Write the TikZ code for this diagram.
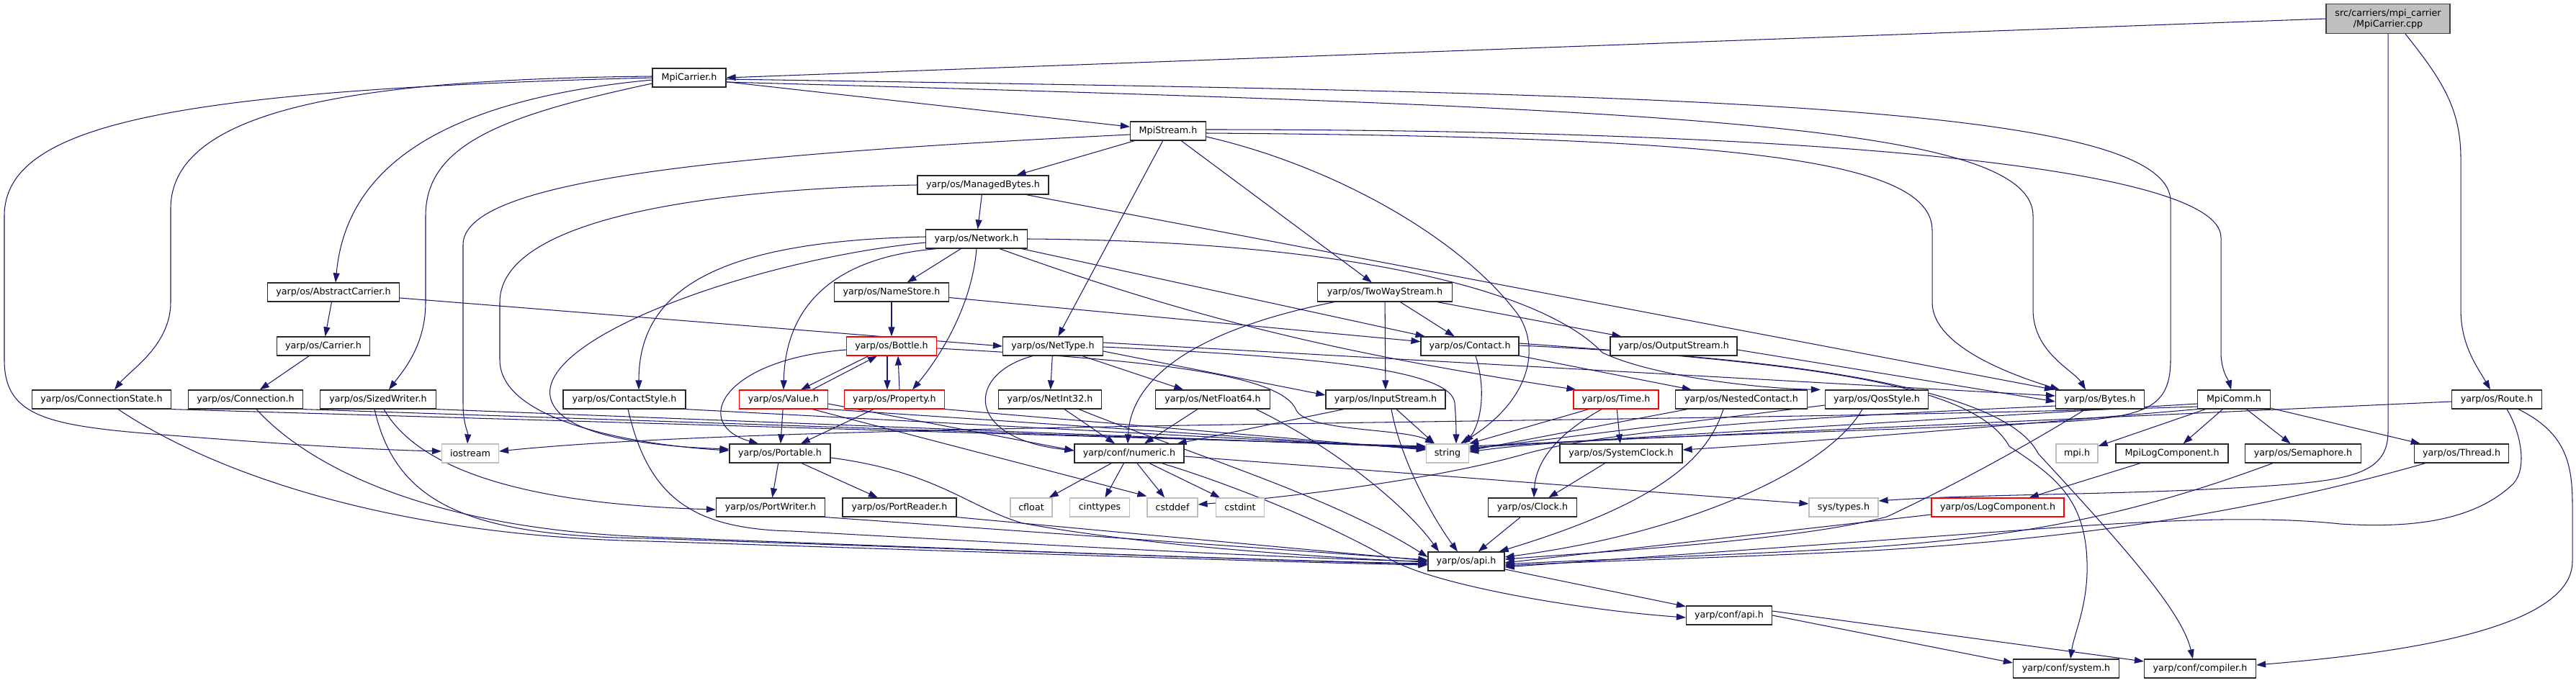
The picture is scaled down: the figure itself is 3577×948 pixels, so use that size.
\documentclass[tikz,border=0pt]{standalone}
\usepackage{fontspec}
\setmainfont{DejaVu Sans}
\usetikzlibrary{arrows.meta}
\definecolor{edgec}{RGB}{25,25,112}
\definecolor{graybd}{RGB}{191,191,191}
\definecolor{rootfill}{RGB}{191,191,191}
\definecolor{rootbd}{RGB}{64,64,64}
\definecolor{nodebd}{RGB}{40,40,40}
\pgfdeclarelayer{bg}
\pgfsetlayers{bg,main}
\begin{document}
\begin{tikzpicture}[x=1pt,y=-1pt,
  nd/.style={draw=nodebd, fill=white, line width=1.2pt, inner sep=0pt, minimum height=26pt, text=black, font=\fontsize{12.7}{15}\selectfont},
  ng/.style={nd, draw=graybd},
  nr/.style={nd, draw=red},
  e/.style={draw=edgec, line width=1.05pt, -{Triangle[length=13pt,width=9pt]}}]
\useasboundingbox (0,0) rectangle (3577,948);
% ---------------- nodes
\node[nd, fill=rootfill, draw=rootbd, minimum width=172pt, minimum height=41pt, align=center] (root) at (3316,26) {src/carriers/mpi\_carrier\\/MpiCarrier.cpp};
\node[nd, minimum width=102pt] (mc) at (957,108) {MpiCarrier.h};
\node[nd, minimum width=105pt] (ms) at (1622,182) {MpiStream.h};
\node[nd, minimum width=182pt] (mb) at (1365,257) {yarp/os/ManagedBytes.h};
\node[nd, minimum width=141pt] (net) at (1356,332) {yarp/os/Network.h};
\node[nd, minimum width=183pt] (ac) at (463,406) {yarp/os/AbstractCarrier.h};
\node[nd, minimum width=159pt] (ns) at (1238,406) {yarp/os/NameStore.h};
\node[nd, minimum width=187pt] (tws) at (1923,406) {yarp/os/TwoWayStream.h};
\node[nd, minimum width=129pt] (car) at (449,481) {yarp/os/Carrier.h};
\node[nr, minimum width=125pt] (bot) at (1238,481) {yarp/os/Bottle.h};
\node[nd, minimum width=139pt] (nt) at (1462,481) {yarp/os/NetType.h};
\node[nd, minimum width=136pt] (con) at (2041,481) {yarp/os/Contact.h};
\node[nd, minimum width=176pt] (os) at (2324,481) {yarp/os/OutputStream.h};
\node[nd, minimum width=193pt] (cst) at (141,555) {yarp/os/ConnectionState.h};
\node[nd, minimum width=159pt] (conn) at (341,555) {yarp/os/Connection.h};
\node[nd, minimum width=161pt] (sw) at (525,555) {yarp/os/SizedWriter.h};
\node[nd, minimum width=170pt] (cs) at (867,555) {yarp/os/ContactStyle.h};
\node[nr, minimum width=123pt] (val) at (1088,555) {yarp/os/Value.h};
\node[nr, minimum width=139pt] (prop) at (1242,555) {yarp/os/Property.h};
\node[nd, minimum width=143pt] (ni) at (1458,555) {yarp/os/NetInt32.h};
\node[nd, minimum width=159pt] (nf) at (1684,555) {yarp/os/NetFloat64.h};
\node[nd, minimum width=166pt] (is) at (1924,555) {yarp/os/InputStream.h};
\node[nr, minimum width=118pt] (time) at (2244,555) {yarp/os/Time.h};
\node[nd, minimum width=183pt] (nc) at (2418,555) {yarp/os/NestedContact.h};
\node[nd, minimum width=143pt] (qos) at (2606,555) {yarp/os/QosStyle.h};
\node[nd, minimum width=123pt] (bytes) at (2916,555) {yarp/os/Bytes.h};
\node[nd, minimum width=101pt] (comm) at (3102,555) {MpiComm.h};
\node[nd, minimum width=125pt] (route) at (3467,555) {yarp/os/Route.h};
\node[ng, minimum width=79pt] (ios) at (653,630) {iostream};
\node[nd, minimum width=140pt] (port) at (1083,630) {yarp/os/Portable.h};
\node[nd, minimum width=152pt] (num) at (1568,630) {yarp/conf/numeric.h};
\node[ng, minimum width=59pt] (str) at (2010,630) {string};
\node[nd, minimum width=170pt] (sclk) at (2251,630) {yarp/os/SystemClock.h};
\node[ng, minimum width=58pt] (mpi) at (2884,630) {mpi.h};
\node[nd, minimum width=156pt] (mlc) at (3016,630) {MpiLogComponent.h};
\node[nd, minimum width=161pt] (sem) at (3198,630) {yarp/os/Semaphore.h};
\node[nd, minimum width=131pt] (thr) at (3418,630) {yarp/os/Thread.h};
\node[nd, minimum width=151pt] (pw) at (1070,705) {yarp/os/PortWriter.h};
\node[nd, minimum width=158pt] (pr) at (1249,705) {yarp/os/PortReader.h};
\node[ng, minimum width=58pt] (cfl) at (1432,705) {cfloat};
\node[ng, minimum width=83pt] (cint) at (1527,705) {cinttypes};
\node[ng, minimum width=70pt] (cdef) at (1628,705) {cstddef};
\node[ng, minimum width=67pt] (cdi) at (1722,705) {cstdint};
\node[nd, minimum width=123pt] (clk) at (2128,705) {yarp/os/Clock.h};
\node[ng, minimum width=96pt] (sys) at (2560,705) {sys/types.h};
\node[nr, minimum width=184pt] (logc) at (2774,705) {yarp/os/LogComponent.h};
\node[nd, minimum width=106pt] (api) at (2036,780) {yarp/os/api.h};
\node[nd, minimum width=119pt] (capi) at (2401,855) {yarp/conf/api.h};
\node[nd, minimum width=147pt] (csys) at (2869,929) {yarp/conf/system.h};
\node[nd, minimum width=155pt] (ccomp) at (3055,929) {yarp/conf/compiler.h};
% ---------------- edges
\begin{pgfonlayer}{bg}
\fill[white] (0,0) rectangle (3577,948);
% root
\draw[e] (root.west) -- (mc.east);
\draw[e] ([xshift=24pt]root.south) .. controls (3390,110) and (3417,150) .. (3417,220) -- (3417,430) .. controls (3417,480) and (3440,510) .. ([xshift=-9pt]route.north);
\draw[e] (root.south) -- (3316,600) .. controls (3316,660) and (3260,668) .. (3136,676) .. controls (2950,688) and (2750,686) .. ([yshift=9pt]sys.east);
% MpiCarrier.h
\draw[e] (mc) -- (ms);
\draw[e] ([yshift=2pt]mc.west) .. controls (500,110) and (237,150) .. (237,290) -- (237,420) .. controls (237,480) and (180,515) .. ([xshift=18pt]cst.north);
\draw[e] (mc.west) .. controls (250,125) and (6,170) .. (6,300) -- (6,500) .. controls (6,575) and (60,590) .. (200,602) .. controls (400,618) and (520,625) .. ([yshift=3pt]ios.west);
\draw[e] ([yshift=-3pt]mc.west) .. controls (600,140) and (480,240) .. ([xshift=3pt]ac.north);
\draw[e] ([yshift=-8pt]mc.west) .. controls (700,160) and (591,200) .. (591,300) -- (591,420) .. controls (591,480) and (560,515) .. ([xshift=15pt]sw.north);
\draw[e] ([yshift=-6pt]mc.east) .. controls (2300,150) and (2823,170) .. (2823,300) -- (2823,430) .. controls (2823,490) and (2880,515) .. ([xshift=-20pt]bytes.north);
\draw[e] ([yshift=-2pt]mc.east) .. controls (2300,130) and (3014,140) .. (3014,280) -- (3014,500) .. controls (3014,565) and (2980,578) .. (2880,585) .. controls (2500,605) and (2200,605) .. ([yshift=2pt]str.east);
% MpiStream.h
\draw[e] (ms) -- (mb);
\draw[e] ([yshift=-5pt]ms.west) .. controls (1000,215) and (643,250) .. (643,340) -- (643,560) .. controls (643,590) and (650,600) .. ([xshift=-4pt]ios.north);
\draw[e] (ms) -- (nt);
\draw[e] (ms) -- (tws);
\draw[e] ([yshift=-8pt]ms.east) .. controls (1850,230) and (2030,330) .. (2110,440) .. controls (2140,490) and (2120,560) .. ([xshift=18pt]str.north);
\draw[e] ([yshift=-3pt]ms.east) .. controls (2400,190) and (2683,220) .. (2683,320) -- (2683,420) .. controls (2683,480) and (2790,520) .. ([xshift=6pt]bytes.north west);
\draw[e] ([yshift=2pt]ms.east) .. controls (2500,180) and (3084,230) .. (3084,330) -- (3084,490) .. controls (3084,515) and (3095,530) .. ([xshift=-4pt]comm.north);
% ManagedBytes.h
\draw[e] (mb) -- (net);
\draw[e] (mb.west) .. controls (1000,262) and (694,300) .. (694,420) -- (694,500) .. controls (694,585) and (880,618) .. ([yshift=4pt]port.west);
\draw[e] ([xshift=60pt]mb.south) -- ([xshift=-2pt]bytes.north west);
% Network.h
\draw[e] ([yshift=3pt]net.west) .. controls (1000,335) and (887,400) .. ([xshift=20pt]cs.north);
\draw[e] ([yshift=-5pt]net.west) .. controls (1050,360) and (740,470) .. (765,555) .. controls (780,605) and (900,620) .. ([yshift=6pt]port.west);
\draw[e] ([xshift=-55pt]net.south) .. controls (1130,360) and (1090,450) .. (val.north);
\draw[e] (net) -- (ns);
\draw[e] (net.south) .. controls (1350,420) and (1310,490) .. ([xshift=25pt]prop.north);
\draw[e] (net) -- (con);
\draw[e] ([xshift=32pt]net.south) .. controls (1650,440) and (1850,490) .. ([xshift=4pt]time.north west);
\draw[e] (net.east) .. controls (1900,335) and (2150,410) .. (2225,490) .. controls (2300,525) and (2450,540) .. ([xshift=-6pt]qos.north west);
% NameStore.h
\draw[e] (ns) -- (bot);
\draw[e] (ns) -- (con);
% AbstractCarrier.h, Carrier.h
\draw[e] (ac) -- (car);
\draw[e] ([yshift=-8pt]ac.east) -- (nt.west);
\draw[e] (car) -- (conn);
% TwoWayStream.h
\draw[e] (tws) -- (con);
\draw[e] (tws) -- (is);
\draw[e] (tws) -- (os);
\draw[e] ([xshift=-70pt]tws.south) .. controls (1650,460) and (1570,530) .. ([xshift=-2pt]num.north);
% Bottle.h
\draw[e] ([yshift=-5pt]bot.west) .. controls (1000,500) and (960,590) .. ([xshift=-30pt]port.north);
\draw[e] ([xshift=-32pt]bot.south) -- ([xshift=24pt]val.north);
\draw[e] ([xshift=40pt]val.north) -- ([xshift=-20pt]bot.south);
\draw[e] ([xshift=-6pt]bot.south) -- ([xshift=-10pt]prop.north);
\draw[e] ([xshift=7pt]prop.north) -- ([xshift=9pt]bot.south);
\draw[e] ([yshift=-3pt]bot.east) .. controls (1600,500) and (1780,520) .. (1800,570) .. controls (1815,600) and (1950,595) .. ([xshift=-18pt]str.north);
% Value.h
\draw[e] (val) -- (port);
\draw[e] ([xshift=40pt]val.south) -- ([yshift=2pt]cdef.north west);
\draw[e] ([yshift=-6pt]val.east) -- ([yshift=4pt]num.west);
\draw[e] (val.south east) -- ([yshift=6pt]str.west);
% Property.h
\draw[e] (prop) -- (port);
\draw[e] (prop.south east) -- ([yshift=5pt]str.west);
% NetType.h
\draw[e] (nt) -- (ni);
\draw[e] (nt) -- (nf);
\draw[e] ([xshift=-28pt]nt.south) .. controls (1340,520) and (1340,610) .. ([yshift=4pt]num.west);
\draw[e] ([yshift=5pt]nt.east) -- ([yshift=5pt]bytes.west);
\draw[e] ([yshift=-1pt]nt.east) .. controls (1800,495) and (2015,510) .. (2020,560) .. controls (2022,585) and (2022,600) .. ([xshift=12pt]str.north);
\draw[e] ([yshift=-7pt]nt.east) -- ([yshift=6pt]is.west);
% Contact.h
\draw[e] ([xshift=8pt]con.south) .. controls (2065,545) and (2055,590) .. ([xshift=24pt]str.north);
\draw[e] (con) -- (nc);
\draw[e] ([yshift=4pt]con.east) .. controls (2500,505) and (2740,530) .. (2790,620) .. controls (2850,660) and (2895,690) .. (2898,780) .. controls (2900,840) and (2880,880) .. ([xshift=6pt]csys.north);
\draw[e] ([yshift=1pt]con.east) .. controls (2550,500) and (2790,550) .. (2830,630) .. controls (2950,760) and (3030,850) .. ([xshift=-10pt]ccomp.north);
% OutputStream.h
\draw[e] ([yshift=-5pt]os.east) -- ([yshift=-3pt]bytes.west);
% ConnectionState.h, Connection.h, SizedWriter.h, ContactStyle.h
\draw[e] (cst.south east) -- ([yshift=10pt]str.west);
\draw[e] ([xshift=23pt]cst.south) .. controls (300,660) and (550,745) .. (900,752) .. controls (1400,768) and (1800,782) .. ([yshift=-5pt]api.west);
\draw[e] (conn.south east) -- ([yshift=9pt]str.west);
\draw[e] ([xshift=15pt]conn.south) .. controls (430,650) and (600,735) .. (900,746) .. controls (1400,765) and (1800,780) .. ([yshift=-4pt]api.west);
\draw[e] (sw.south east) -- ([yshift=8pt]str.west);
\draw[e] ([xshift=8pt]sw.south) .. controls (580,650) and (720,700) .. ([yshift=-3pt]pw.west);
\draw[e] ([xshift=-5pt]sw.south) .. controls (550,700) and (650,745) .. (900,748) .. controls (1400,765) and (1800,780) .. ([yshift=-3pt]api.west);
\draw[e] (cs.south east) -- ([yshift=7pt]str.west);
\draw[e] ([xshift=5pt]cs.south) .. controls (900,690) and (960,735) .. (1100,738) .. controls (1500,760) and (1800,776) .. (api.west);
% NetInt32.h, NetFloat64.h
\draw[e] (ni) -- (num);
\draw[e] ([xshift=40pt]ni.south) .. controls (1650,630) and (1850,690) .. ([yshift=6pt]api.west);
\draw[e] (nf) -- (num);
\draw[e] ([xshift=60pt]nf.south) .. controls (1850,620) and (1950,700) .. ([xshift=-38pt]api.north);
% InputStream.h
\draw[e] ([xshift=-58pt]is.south) -- ([xshift=-10pt]num.north east);
\draw[e] ([xshift=8pt]is.south) .. controls (1945,640) and (1990,720) .. ([xshift=-12pt]api.north);
\draw[e] ([xshift=15pt]is.south) -- ([xshift=-18pt]str.north);
% Time.h
\draw[e] ([xshift=-38pt]time.south) -- (str.north east);
\draw[e] (time) -- (sclk);
\draw[e] ([xshift=-20pt]time.south) .. controls (2150,610) and (2132,650) .. ([xshift=2pt]clk.north);
% NestedContact.h, QosStyle.h
\draw[e] ([xshift=-75pt]nc.south) -- ([yshift=4pt]str.east);
\draw[e] ([xshift=-25pt]nc.south) .. controls (2370,640) and (2300,700) .. ([xshift=-8pt]api.north east);
\draw[e] ([yshift=-8pt]qos.west) -- ([yshift=6pt]str.east);
\draw[e] ([xshift=-20pt]qos.south) .. controls (2540,650) and (2350,740) .. ([yshift=6pt]api.east);
% Bytes.h
\draw[e] ([xshift=-20pt]bytes.south) .. controls (2780,640) and (2680,690) .. (2620,718) .. controls (2500,750) and (2250,765) .. ([yshift=3pt]api.east);
\draw[e] ([yshift=-9pt]bytes.west) .. controls (2500,580) and (2250,595) .. (2120,630) .. controls (2000,665) and (1800,690) .. ([yshift=4pt]cdef.east);
% MpiComm.h
\draw[e] (comm) -- (mpi);
\draw[e] (comm) -- (mlc);
\draw[e] (comm) -- (sem);
\draw[e] (comm) -- (thr);
\draw[e] ([yshift=-6pt]comm.west) -- ([yshift=8pt]str.east);
\draw[e] ([yshift=-10pt]comm.west) .. controls (2300,590) and (1100,585) .. ([yshift=3pt]ios.east);
\draw[e] (comm.south west) .. controls (2800,590) and (2500,615) .. ([yshift=5pt]sclk.east);
% MpiLogComponent, LogComponent, Semaphore, Thread
\draw[e] (mlc) -- (logc);
\draw[e] ([yshift=-10pt]logc.west) -- ([yshift=-2pt]api.east);
\draw[e] ([xshift=-42pt]sem.south) .. controls (2950,720) and (2800,745) .. (2600,760) .. controls (2400,772) and (2200,778) .. ([yshift=-4pt]api.east);
\draw[e] ([xshift=-50pt]thr.south) .. controls (3100,720) and (2850,750) .. (2600,765) .. controls (2400,775) and (2200,780) .. ([yshift=-6pt]api.east);
% Route.h
\draw[e] ([yshift=-3pt]route.west) -- ([yshift=10pt]str.east);
\draw[e] ([xshift=14pt]route.south) .. controls (3500,600) and (3510,650) .. (3490,672) .. controls (3440,720) and (3360,735) .. (3250,728) .. controls (3100,712) and (2900,730) .. (2677,746) .. controls (2400,766) and (2200,780) .. ([yshift=-8pt]api.east);
\draw[e] ([xshift=30pt]route.south) .. controls (3560,600) and (3572,640) .. (3572,700) -- (3572,780) .. controls (3572,880) and (3300,910) .. ([yshift=5pt]ccomp.east);
% Portable.h, PortWriter.h, PortReader.h
\draw[e] (port) -- (pw);
\draw[e] (port) -- (pr);
\draw[e] ([yshift=-6pt]port.east) .. controls (1300,655) and (1345,705) .. (1420,727) .. controls (1600,760) and (1850,775) .. ([yshift=-1pt]api.west);
\draw[e] (pw.south east) -- ([yshift=2pt]api.west);
\draw[e] (pr.south east) -- ([yshift=1pt]api.west);
% numeric.h
\draw[e] (num) -- (cfl);
\draw[e] (num) -- (cint);
\draw[e] (num) -- (cdef);
\draw[e] (num) -- (cdi);
\draw[e] ([yshift=-4pt]num.east) -- ([yshift=5pt]sys.west);
\draw[e] ([xshift=45pt]num.south) .. controls (1700,670) and (1830,720) .. (1932,778) .. controls (2000,815) and (2200,848) .. ([yshift=-3pt]capi.west);
% clocks and api
\draw[e] (sclk) -- (clk);
\draw[e] (clk) -- (api);
\draw[e] (api) -- (capi);
\draw[e] (capi.east) -- ([yshift=8pt]csys.west);
\draw[e] ([yshift=6pt]capi.east) -- ([yshift=10pt]ccomp.west);
\end{pgfonlayer}
\end{tikzpicture}
\end{document}
